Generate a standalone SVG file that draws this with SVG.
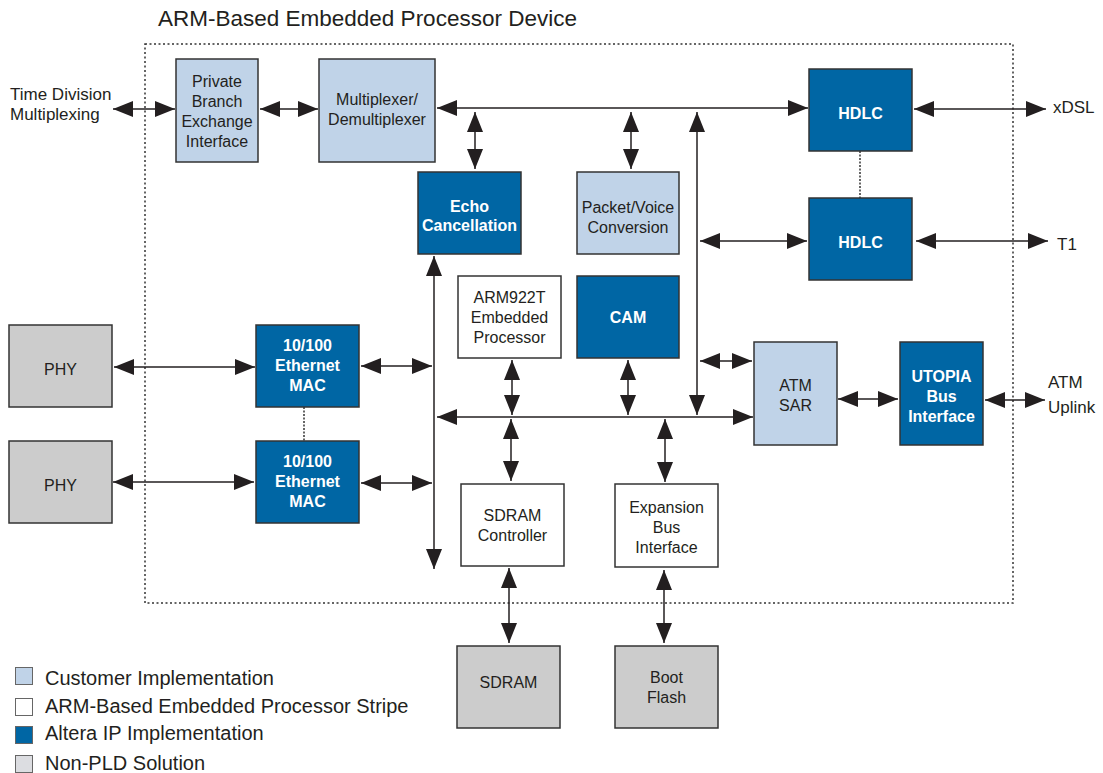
<svg xmlns="http://www.w3.org/2000/svg" width="1103" height="773" viewBox="0 0 1103 773">
<style>
text{font-family:"Liberation Sans",Arial,sans-serif;fill:#231f20;font-size:16px}
.c{text-anchor:middle}
.w{fill:#fff;font-weight:bold}
.o{font-size:17px}
.lg{font-size:20px}
.box{stroke:#333;stroke-width:1.5}
.lb{fill:#c0d3e8}
.db{fill:#0066a4}
.wh{fill:#fff}
.gr{fill:#cccccc}
.ln{stroke:#231f20;stroke-width:1.5;fill:none;marker-start:url(#ah);marker-end:url(#ah)}
.dash{stroke:#333;stroke-width:1.5;stroke-dasharray:2 1.5}
</style>
<defs>
<marker id="ah" viewBox="0 0 20 16" refX="20" refY="8" markerWidth="20" markerHeight="16" markerUnits="userSpaceOnUse" orient="auto-start-reverse">
<path d="M0,0 L20,8 L0,16 z" fill="#231f20"/>
</marker>
</defs>
<rect width="1103" height="773" fill="#fff"/>
<text x="158" y="26" style="font-size:22.5px">ARM-Based Embedded Processor Device</text>
<rect x="145" y="44" width="868" height="559" fill="none" stroke="#333" stroke-width="1.5" stroke-dasharray="2 2.5"/>

<g id="connectors">
<path class="ln" d="M113,109 H175"/>
<path class="ln" d="M260,109 H318"/>
<path class="ln" d="M437,108 H808"/>
<path class="ln" d="M475,112 V169"/>
<path class="ln" d="M631,112 V169"/>
<path class="ln" d="M697,112 V415"/>
<path class="ln" d="M700,241 H807"/>
<path class="ln" d="M700,361 H752"/>
<path class="ln" d="M434,256 V569"/>
<path class="ln" d="M437,417 H753"/>
<path class="ln" d="M361,366 H432"/>
<path class="ln" d="M361,483 H432"/>
<path class="ln" d="M114,367 H255"/>
<path class="ln" d="M113,482 H254"/>
<path class="ln" d="M512,360 V415"/>
<path class="ln" d="M628,360 V415"/>
<path class="ln" d="M511,419 V481"/>
<path class="ln" d="M665,419 V482"/>
<path class="ln" d="M838,399 H898"/>
<path class="ln" d="M985,400 H1045"/>
<path class="ln" d="M914,109 H1046"/>
<path class="ln" d="M916,241 H1048"/>
<path class="ln" d="M509,568 V643"/>
<path class="ln" d="M664,570 V643"/>
<path class="dash" d="M304,407 V441"/>
<path class="dash" d="M860,151 V198"/>
</g>

<text class="o" x="10" y="100">Time Division</text>
<text class="o" x="10" y="120">Multiplexing</text>
<text class="o" x="1053" y="113">xDSL</text>
<text class="o" x="1057" y="250">T1</text>
<text class="o" x="1048" y="388">ATM</text>
<text class="o" x="1048" y="413">Uplink</text>

<g id="pbx"><rect class="box lb" x="176" y="59" width="82" height="103"/>
<text class="c" x="217" y="87">Private</text><text class="c" x="217" y="107">Branch</text><text class="c" x="217" y="127">Exchange</text><text class="c" x="217" y="147">Interface</text></g>
<g id="mux"><rect class="box lb" x="319" y="59" width="116" height="103"/>
<text class="c" x="377" y="105">Multiplexer/</text><text class="c" x="377" y="125">Demultiplexer</text></g>
<g id="echo"><rect class="box db" x="418" y="172" width="103" height="82"/>
<text class="c w" x="469.5" y="212">Echo</text><text class="c w" x="469.5" y="231">Cancellation</text></g>
<g id="packet"><rect class="box lb" x="577" y="172" width="102" height="82"/>
<text class="c" x="628" y="213">Packet/Voice</text><text class="c" x="628" y="233">Conversion</text></g>
<g id="arm"><rect class="box wh" x="458" y="276" width="103" height="82"/>
<text class="c" x="509.5" y="303">ARM922T</text><text class="c" x="509.5" y="323">Embedded</text><text class="c" x="509.5" y="343">Processor</text></g>
<g id="cam"><rect class="box db" x="577" y="276" width="102" height="82"/>
<text class="c w" x="628" y="323">CAM</text></g>
<g id="hdlc1"><rect class="box db" x="809" y="69" width="103" height="82"/>
<text class="c w" x="860.5" y="119">HDLC</text></g>
<g id="hdlc2"><rect class="box db" x="809" y="198" width="103" height="82"/>
<text class="c w" x="860.5" y="248">HDLC</text></g>
<g id="atmsar"><rect class="box lb" x="754" y="342" width="83" height="103"/>
<text class="c" x="795.5" y="391">ATM</text><text class="c" x="795.5" y="411">SAR</text></g>
<g id="utopia"><rect class="box db" x="900" y="342" width="83" height="103"/>
<text class="c w" x="941.5" y="382">UTOPIA</text><text class="c w" x="941.5" y="402">Bus</text><text class="c w" x="941.5" y="422">Interface</text></g>
<g id="phy1"><rect class="box gr" x="9" y="325" width="103" height="82"/>
<text class="c" x="60.5" y="375">PHY</text></g>
<g id="phy2"><rect class="box gr" x="9" y="441" width="103" height="82"/>
<text class="c" x="60.5" y="491">PHY</text></g>
<g id="mac1"><rect class="box db" x="256" y="325" width="103" height="82"/>
<text class="c w" x="307.5" y="351">10/100</text><text class="c w" x="307.5" y="371">Ethernet</text><text class="c w" x="307.5" y="391">MAC</text></g>
<g id="mac2"><rect class="box db" x="256" y="441" width="103" height="82"/>
<text class="c w" x="307.5" y="467">10/100</text><text class="c w" x="307.5" y="487">Ethernet</text><text class="c w" x="307.5" y="507">MAC</text></g>
<g id="sdramctl"><rect class="box wh" x="461" y="484" width="103" height="82"/>
<text class="c" x="512.5" y="521">SDRAM</text><text class="c" x="512.5" y="541">Controller</text></g>
<g id="expbus"><rect class="box wh" x="615" y="484" width="103" height="83"/>
<text class="c" x="666.5" y="513">Expansion</text><text class="c" x="666.5" y="533">Bus</text><text class="c" x="666.5" y="553">Interface</text></g>
<g id="sdram"><rect class="box gr" x="457" y="646" width="103" height="82"/>
<text class="c" x="508.5" y="688">SDRAM</text></g>
<g id="bootflash"><rect class="box gr" x="615" y="646" width="103" height="82"/>
<text class="c" x="666.5" y="683">Boot</text><text class="c" x="666.5" y="703">Flash</text></g>

<g id="legend">
<rect x="15.5" y="667.5" width="17" height="17" fill="#c0d3e8" stroke="#666" stroke-width="1"/>
<text class="lg" x="45" y="685">Customer Implementation</text>
<rect x="15.5" y="698.5" width="17" height="17" fill="#fff" stroke="#666" stroke-width="1"/>
<text class="lg" x="45" y="713">ARM-Based Embedded Processor Stripe</text>
<rect x="15.5" y="726.5" width="17" height="17" fill="#0066a4" stroke="#666" stroke-width="1"/>
<text class="lg" x="45" y="740">Altera IP Implementation</text>
<rect x="15.5" y="755.5" width="17" height="17" fill="#dcdde1" stroke="#666" stroke-width="1"/>
<text class="lg" x="45" y="770">Non-PLD Solution</text>
</g>
</svg>
